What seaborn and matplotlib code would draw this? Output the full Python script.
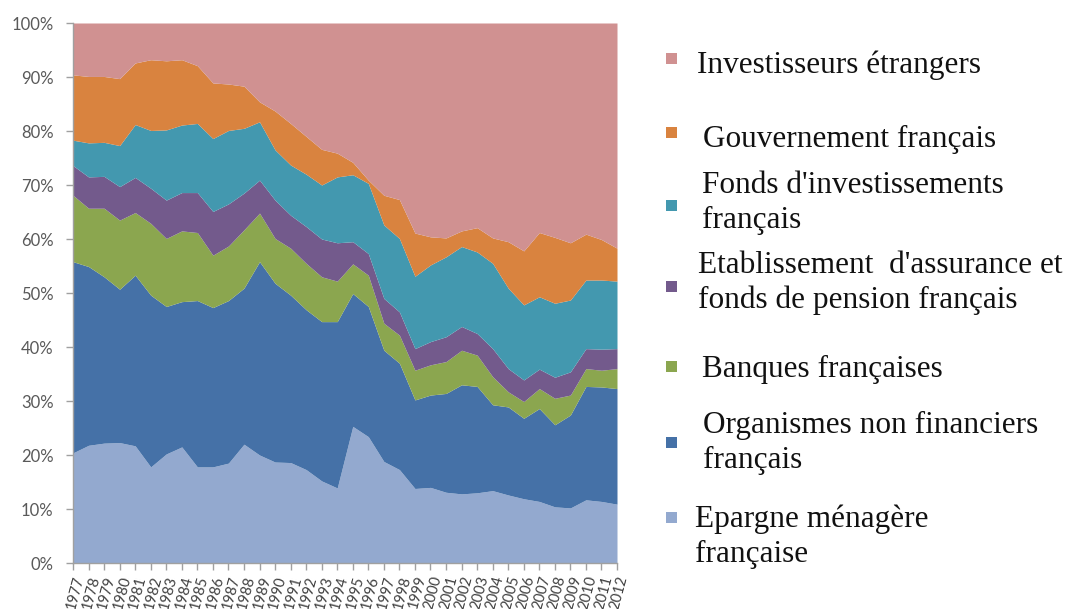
import numpy as np
import pandas as pd
import matplotlib
matplotlib.use("Agg")
import matplotlib.pyplot as plt
from matplotlib.patches import Rectangle
import seaborn as sns

years = list(range(1977, 2013))

epargne = [20.4, 21.8, 22.2, 22.3, 21.7, 17.8, 20.2, 21.5, 17.8, 17.8, 18.5, 22.0,
           20.0, 18.7, 18.6, 17.3, 15.2, 13.9, 25.3, 23.4, 18.8, 17.3, 13.8, 14.0,
           13.1, 12.8, 13.0, 13.4, 12.6, 11.9, 11.4, 10.4, 10.2, 11.7, 11.4, 10.9]
organismes = [35.4, 33.1, 30.8, 28.4, 31.6, 31.8, 27.3, 26.9, 30.8, 29.5, 30.1, 28.9,
              35.8, 33.1, 31.0, 29.6, 29.5, 30.8, 24.6, 24.1, 20.6, 19.7, 16.4, 17.1,
              18.3, 20.2, 19.7, 15.9, 16.3, 14.9, 17.2, 15.2, 17.2, 21.0, 21.2, 21.4]
banques = [12.3, 10.8, 12.7, 12.8, 11.6, 13.3, 12.6, 13.1, 12.6, 9.7, 10.1, 10.8,
           9.0, 8.3, 8.7, 8.6, 8.3, 7.5, 5.5, 5.8, 5.0, 5.2, 5.5, 5.6,
           5.9, 6.4, 5.8, 5.2, 2.8, 3.1, 3.7, 4.9, 3.7, 3.3, 3.1, 3.7]
assurance = [5.5, 5.8, 5.9, 6.2, 6.5, 6.5, 7.1, 7.1, 7.4, 8.1, 7.8, 6.8,
             6.1, 7.1, 6.1, 6.8, 7.0, 7.1, 4.1, 4.0, 4.6, 4.3, 4.0, 4.3,
             4.6, 4.4, 4.0, 5.2, 4.3, 4.0, 3.6, 3.9, 4.3, 3.7, 3.9, 3.7]
fonds = [4.7, 6.3, 6.3, 7.6, 9.8, 10.7, 13.0, 12.5, 12.8, 13.5, 13.6, 12.0,
         10.8, 9.3, 9.3, 9.7, 10.0, 12.2, 12.4, 13.0, 13.6, 13.6, 13.4, 14.2,
         14.8, 14.8, 15.1, 15.8, 14.9, 13.9, 13.4, 13.7, 13.3, 12.7, 12.8, 12.5]
gouvernement = [12.1, 12.3, 12.2, 12.4, 11.4, 13.1, 12.8, 12.1, 10.7, 10.3, 8.6, 7.8,
                3.7, 7.2, 7.7, 7.0, 6.6, 4.4, 2.3, 0.6, 5.5, 7.2, 8.0, 5.2,
                3.5, 2.9, 4.5, 4.7, 8.6, 10.0, 11.9, 12.2, 10.6, 8.5, 7.5, 6.1]
etrangers = [9.6, 9.9, 9.9, 10.3, 7.4, 6.8, 7.0, 6.8, 7.9, 11.1, 11.3, 11.7,
             14.6, 16.3, 18.6, 21.0, 23.4, 24.1, 25.8, 29.1, 31.9, 32.7, 38.9, 39.6,
             39.8, 38.5, 37.9, 39.8, 40.5, 42.2, 38.8, 39.7, 40.7, 39.1, 40.1, 41.7]

series_names = ["Epargne ménagère française", "Organismes non financiers français",
                "Banques françaises", "Etablissement d'assurance et fonds de pension français",
                "Fonds d'investissements français", "Gouvernement français",
                "Investisseurs étrangers"]
ytick_labels = [f"{v}%" for v in range(0, 101, 10)]

colors = ["#93A9CF", "#4571A7", "#8BA64F", "#735A8C", "#4398AF", "#D9833F", "#D09191"]

df = pd.DataFrame({"year": years,
                   series_names[0]: epargne, series_names[1]: organismes,
                   series_names[2]: banques, series_names[3]: assurance,
                   series_names[4]: fonds, series_names[5]: gouvernement,
                   series_names[6]: etrangers})
vals = df[series_names].to_numpy().T
vals = vals / vals.sum(axis=0) * 100.0

sns.set_theme(style="white")
plt.rcParams['font.family'] = ['Lato', 'DejaVu Sans']

W, H = 1067, 609
fig = plt.figure(figsize=(W / 100, H / 100), dpi=100)
ax = fig.add_axes([73 / W, 46 / H, 544 / W, 540 / H])

ax.stackplot(df["year"], vals, colors=sns.color_palette(colors), linewidth=0)

ax.set_xlim(1977, 2012)
ax.set_ylim(0, 100)
ax.set_yticks(range(0, 101, 10))
ax.set_yticklabels(ytick_labels, fontsize=12, color="#595959")
ax.set_xticks(years)
ax.set_xticklabels([str(y) for y in years], rotation=75, ha="right",
                   rotation_mode="anchor", fontsize=10.5, color="#404040")
for s in ["top", "right"]:
    ax.spines[s].set_visible(False)
for s in ["left", "bottom"]:
    ax.spines[s].set_color("#A0A0A0")
    ax.spines[s].set_linewidth(1.0)
ax.tick_params(axis="both", which="both", direction="out", length=5, width=1,
               color="#A0A0A0", bottom=True, left=True)
ax.tick_params(axis="y", pad=9)
ax.tick_params(axis="x", pad=3)
ax.grid(False)

# Legend (manual layout, serif text)
legend_lines = [
    (6, [(697, 73, "Investisseurs étrangers")], 58),
    (5, [(703, 147, "Gouvernement français")], 132),
    (4, [(702, 193, "Fonds d'investissements"), (702, 228, "français")], 205),
    (3, [(698, 273, "Etablissement  d'assurance et"), (698, 308, "fonds de pension français")], 286),
    (2, [(702, 377, "Banques françaises")], 366),
    (1, [(703, 433, "Organismes non financiers"), (703, 468, "français")], 442),
    (0, [(695, 527, "Epargne ménagère"), (695, 562, "française")], 517),
]
sq = 11
for idx, lines, cy in legend_lines:
    fig.patches.append(Rectangle(((671 - sq / 2) / W, 1 - (cy + sq / 2) / H), sq / W, sq / H,
                                 transform=fig.transFigure, facecolor=colors[idx],
                                 edgecolor="none"))
    for x, yb, txt in lines:
        fig.text(x / W, 1 - yb / H, txt, fontsize=22.5, family=["Liberation Serif"],
                 color="#111111", va="baseline", ha="left")

fig.savefig("out.png", dpi=100)
